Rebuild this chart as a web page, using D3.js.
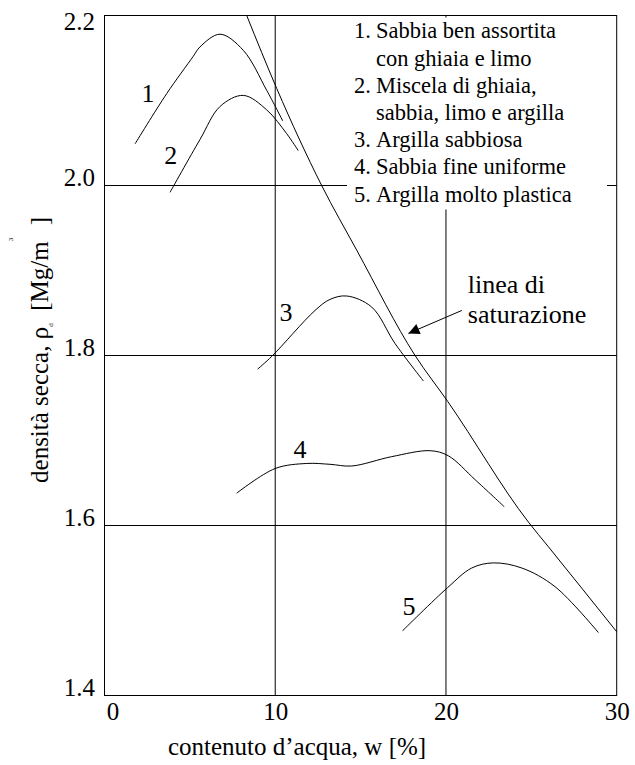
<!DOCTYPE html>
<html>
<head>
<meta charset="utf-8">
<script src="https://cdn.jsdelivr.net/npm/d3@7"></script>
<style>
  body { margin: 0; background: #fff; }
  svg { display: block; }
</style>
</head>
<body>
<svg id="chart" width="635" height="765"></svg>
<script>
// Axis ticks
const xTicks = [0, 10, 20, 30];
const yTicks = [1.4, 1.6, 1.8, 2.0, 2.2];

// Compaction curves: [water content w (%), dry density (Mg/m3)]
const curve1 = [[1.79, 2.049], [3.64, 2.108], [5.2, 2.152], [5.59, 2.163], [6.77, 2.178], [8.13, 2.159], [9.5, 2.112], [10.44, 2.076]];
const curve2 = [[3.84, 1.992], [5.59, 2.054], [6.77, 2.093], [8.13, 2.106], [9.5, 2.089], [10.67, 2.061], [11.35, 2.041]];
const curve3 = [[8.97, 1.784], [9.8, 1.799], [12.33, 1.853], [13.21, 1.866], [14.19, 1.870], [15.65, 1.857], [17.02, 1.814], [18.68, 1.770]];
const curve4 = [[7.74, 1.638], [9.99, 1.667], [11.85, 1.673], [13.21, 1.672], [14.48, 1.670], [16.82, 1.681], [19.07, 1.688], [20.14, 1.682], [21.7, 1.654], [23.42, 1.622]];
const curve5 = [[17.45, 1.476], [20.1, 1.527], [21.51, 1.550], [22.78, 1.556], [24.44, 1.550], [26.39, 1.528], [28.93, 1.474]];
const curves = [curve1, curve2, curve3, curve4, curve5];

// Curve number labels and where they sit [w, rho]
const curveNames = ["1", "2", "3", "4", "5"];
const curveLabelAt = [[2.55, 2.098], [3.88, 2.025], [10.63, 1.841], [11.45, 1.679], [17.84, 1.495]];

// Saturation line
const saturation = [[8.33, 2.2], [10.09, 2.114], [12.72, 2.0], [14.77, 1.924], [18.19, 1.8], [20.1, 1.746], [24.83, 1.604], [26.0, 1.575], [30.0, 1.475]];
const saturationText = ["linea di", "saturazione"];
const saturationTextAt = [21.28, 1.873];
const arrowFrom = [20.93, 1.853];
const arrowTo = [17.8, 1.826];

// Legend
const legendNumbers = ["1.", "", "2.", "", "3.", "4.", "5."];
const legendLines = [
  "Sabbia ben assortita",
  "con ghiaia e limo",
  "Miscela di ghiaia,",
  "sabbia, limo e argilla",
  "Argilla sabbiosa",
  "Sabbia fine uniforme",
  "Argilla molto plastica"
];

const xTitle = "contenuto d\u2019acqua, w [%]";

const svg = d3.select("#chart");
const x = d3.scaleLinear().domain([0, 30]).range([104.5, 616.7]);
const y = d3.scaleLinear().domain([1.4, 2.2]).range([695.5, 15.5]);

// Grid lines
const grid = svg.append("g").attr("stroke", "#000").attr("stroke-width", 1);
grid.selectAll(".gx").data(xTicks.slice(1, -1)).join("line")
  .attr("x1", d => x(d)).attr("x2", d => x(d))
  .attr("y1", y(1.4)).attr("y2", y(2.2));
grid.selectAll(".gy").data(yTicks.slice(1, -1)).join("line")
  .attr("x1", x(0)).attr("x2", x(30))
  .attr("y1", d => y(d)).attr("y2", d => y(d));

// Legend panel masks the grid behind it
svg.append("rect")
  .attr("x", 347).attr("y", 17.5).attr("width", 260).attr("height", 192)
  .attr("fill", "#fff");

// Plot frame
svg.append("rect")
  .attr("x", x(0)).attr("y", y(2.2))
  .attr("width", x(30) - x(0)).attr("height", y(1.4) - y(2.2))
  .attr("fill", "none").attr("stroke", "#000").attr("stroke-width", 1);

// Axes
const xAxis = svg.append("g").attr("transform", `translate(0,${y(1.4)})`)
  .call(d3.axisBottom(x).tickValues(xTicks).tickSize(0).tickPadding(7).tickFormat(d3.format("d")));
xAxis.select(".domain").remove();
xAxis.selectAll("text").attr("fill", "#000").style("font-size", "25px")
  .attr("dx", d => d === 0 ? 8 : 0);

const yAxis = svg.append("g").attr("transform", `translate(${x(0)},0)`)
  .call(d3.axisLeft(y).tickValues(yTicks).tickSize(0).tickPadding(9.5).tickFormat(d3.format(".1f")));
yAxis.select(".domain").remove();
yAxis.selectAll("text").attr("fill", "#000").style("font-size", "25px")
  .attr("dy", d => d === 2.2 ? "0.55em" : "0");

// Axis titles
svg.append("text")
  .attr("x", 297).attr("y", 755)
  .attr("text-anchor", "middle").style("font-size", "25px")
  .text(xTitle);

const yt = svg.append("text")
  .attr("transform", `translate(48,${350}) rotate(-90)`)
  .attr("text-anchor", "middle").style("font-size", "25px");
yt.append("tspan").text("densit\u00e0 secca, \u03c1");
yt.append("tspan").style("font-size", "7px").attr("dy", 5).text("d");
yt.append("tspan").attr("dy", -5).text("\u2002[Mg/m");
yt.append("tspan").style("font-size", "7px").attr("dy", -35).text("3");
yt.append("tspan").attr("dy", 35).text("\u2002]");

// Saturation line
const line = d3.line().x(d => x(d[0])).y(d => y(d[1]));
svg.append("path").datum(saturation)
  .attr("d", line.curve(d3.curveMonotoneX))
  .attr("fill", "none").attr("stroke", "#000").attr("stroke-width", 1);

// Compaction curves
const smooth = d3.line().x(d => x(d[0])).y(d => y(d[1])).curve(d3.curveCatmullRom.alpha(0.5));
svg.selectAll(".curve").data(curves).join("path")
  .attr("class", "curve")
  .attr("d", smooth)
  .attr("fill", "none").attr("stroke", "#000").attr("stroke-width", 1);

svg.selectAll(".clabel").data(curveNames).join("text")
  .attr("class", "clabel")
  .attr("x", (d, i) => x(curveLabelAt[i][0]))
  .attr("y", (d, i) => y(curveLabelAt[i][1]))
  .attr("text-anchor", "middle").style("font-size", "26px")
  .text(d => d);

// Saturation annotation with arrow
svg.append("defs").append("marker")
  .attr("id", "arrowhead").attr("viewBox", "0 0 10 10")
  .attr("refX", 10).attr("refY", 5)
  .attr("markerWidth", 14).attr("markerHeight", 11)
  .attr("markerUnits", "userSpaceOnUse").attr("orient", "auto")
  .append("path").attr("d", "M0,0L10,5L0,10Z").attr("fill", "#000");

svg.append("line")
  .attr("x1", x(arrowFrom[0])).attr("y1", y(arrowFrom[1]))
  .attr("x2", x(arrowTo[0])).attr("y2", y(arrowTo[1]))
  .attr("stroke", "#000").attr("stroke-width", 1)
  .attr("marker-end", "url(#arrowhead)");

svg.selectAll(".stext").data(saturationText).join("text")
  .attr("class", "stext")
  .attr("x", x(saturationTextAt[0]))
  .attr("y", (d, i) => y(saturationTextAt[1]) + i * 29.4)
  .style("font-size", "26px")
  .text(d => d);

// Legend text
const lg = svg.append("g");
lg.selectAll(".lnum").data(legendNumbers).join("text")
  .attr("class", "lnum")
  .attr("x", 354).attr("y", (d, i) => 38.3 + i * 27.2)
  .style("font-size", "22.5px")
  .text(d => d);
lg.selectAll(".ltxt").data(legendLines).join("text")
  .attr("class", "ltxt")
  .attr("x", 376).attr("y", (d, i) => 38.3 + i * 27.2)
  .style("font-size", "22.5px")
  .text(d => d);

// Serif face for every label
svg.selectAll("text").style("font-family", '"Liberation Serif"').style("fill", "#000");
</script>
</body>
</html>
